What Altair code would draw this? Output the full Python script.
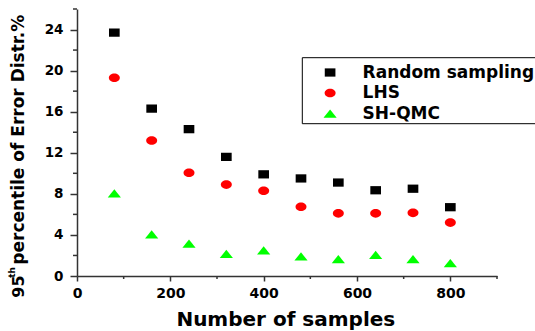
import altair as alt
import pandas as pd

# ---- data ----
samples = [80, 160, 240, 320, 400, 480, 560, 640, 720, 800]
random_sampling = [23.7, 16.3, 14.3, 11.6, 9.9, 9.5, 9.1, 8.35, 8.5, 6.7]
lhs = [19.3, 13.2, 10.05, 8.9, 8.3, 6.75, 6.1, 6.1, 6.15, 5.2]
sh_qmc = [8.05, 4.05, 3.15, 2.15, 2.5, 1.9, 1.65, 2.05, 1.65, 1.25]

series_names = ["Random sampling", "LHS", "SH-QMC"]
series_colors = ["#000000", "#ff0000", "#00ff00"]

x_ticks = [0, 200, 400, 600, 800]
x_minor = [100, 300, 500, 700, 900]
y_ticks = [0, 4, 8, 12, 16, 20, 24]
y_minor = [2, 6, 10, 14, 18, 22, 26]

x_title = "Number of samples"
y_title_num = "95"
y_title_sup = "th"
y_title_rest = "percentile of Error Distr.%"

# ---- table ----
rows = []
for name, vals in zip(series_names, [random_sampling, lhs, sh_qmc]):
    for s, v in zip(samples, vals):
        rows.append({"samples": s, "value": v, "series": name})
df = pd.DataFrame(rows)

shape_paths = [
    "M-0.97,-0.75H0.97V0.75H-0.97Z",
    "M-1,0A1,0.78 0 1,0 1,0A1,0.78 0 1,0 -1,0Z",
    "M0,-0.75L-1.2,0.75L1.2,0.75Z",
]

FONT = "DejaVu Sans"
W, H = 420, 267

legend = alt.Legend(
    orient="none", legendX=225, legendY=49, title=None,
    padding=6, symbolOffset=13.6, labelOffset=24, rowPadding=2.5,
    symbolSize=121, symbolStrokeWidth=0, labelLimit=400,
    labelFont=FONT, labelFontSize=17, labelFontWeight="bold", labelColor="black",
)

xscale = alt.Scale(domain=[0, 900], nice=False, zero=False)
yscale = alt.Scale(domain=[0, 26], nice=False)
xaxis = alt.Axis(values=x_ticks, title=None, tickSize=5, labelPadding=5,
                 labelFontSize=14, labelFlush=False)
yaxis = alt.Axis(values=y_ticks, title=None, tickSize=7, labelPadding=7,
                 labelFontSize=13.5)

legend_box = alt.Chart(pd.DataFrame({"a": [0]})).mark_rect(
    fill="white", stroke="black", strokeWidth=1
).encode(x=alt.value(225.3), x2=alt.value(480), y=alt.value(48.7), y2=alt.value(114.7))

points = alt.Chart(df).mark_point(filled=True, opacity=1, strokeWidth=0, size=121).encode(
    x=alt.X("samples:Q", scale=xscale, axis=xaxis),
    y=alt.Y("value:Q", scale=yscale, axis=yaxis),
    color=alt.Color("series:N", scale=alt.Scale(domain=series_names, range=series_colors), legend=legend),
    shape=alt.Shape("series:N", scale=alt.Scale(domain=series_names, range=shape_paths), legend=legend),
)

xminor = alt.Chart(pd.DataFrame({"samples": x_minor})).mark_rule(color="#333333", strokeWidth=1.5).encode(
    x=alt.X("samples:Q", scale=xscale, axis=xaxis), y=alt.value(H), y2=alt.value(H + 3)
)
yminor = alt.Chart(pd.DataFrame({"value": y_minor})).mark_rule(color="#333333", strokeWidth=1.5).encode(
    y=alt.Y("value:Q", scale=yscale, axis=yaxis), x=alt.value(-4), x2=alt.value(0)
)

def label(txt, x, y, size, angle=0, align="left", baseline="alphabetic"):
    return alt.Chart(pd.DataFrame({"t": [txt]})).mark_text(
        font=FONT, fontSize=size, fontWeight="bold", color="black",
        angle=angle, align=align, baseline=baseline
    ).encode(text="t:N", x=alt.value(x), y=alt.value(y))

t_x = label(x_title, 208.8, 317.4, 20, align="center")
t_y1 = label(y_title_num, -53.4, 288.7, 16, angle=270)
t_y2 = label(y_title_sup, -61.7, 268.7, 9, angle=270)
t_y3 = label(y_title_rest, -53.4, 255.7, 17, angle=270)

chart = alt.layer(legend_box, points, xminor, yminor, t_x, t_y1, t_y2, t_y3).properties(
    width=W, height=H,
    autosize=alt.AutoSizeParams(type="none"),
    padding={"left": 77, "top": 9, "right": 38, "bottom": 55},
    background="white",
).configure_view(stroke=None).configure_axis(
    grid=False, domainColor="#333333", domainWidth=1.5, tickColor="#333333", tickWidth=1.5,
    labelFont=FONT, labelFontWeight="bold", labelColor="black",
)

chart.save("out.html", embed_options={"renderer": "svg", "actions": False})
